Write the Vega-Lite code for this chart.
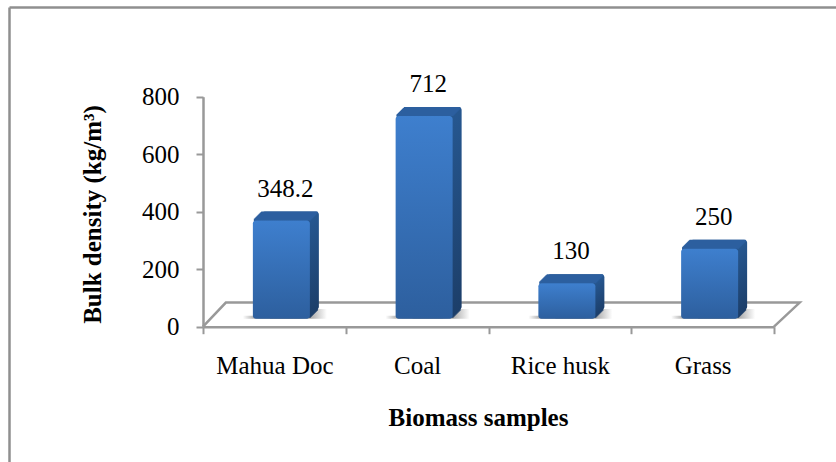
{"$schema":"https://vega.github.io/schema/vega-lite/v6.json","width":827,"height":455,"autosize":"none","padding":{"left":9,"top":7,"right":0,"bottom":0},"background":"white","config":{"view":{"stroke":null},"font":"Liberation Serif"},
"data":{"values":[{"sample":"Mahua Doc","density":348.2},{"sample":"Coal","density":712},{"sample":"Rice husk","density":130},{"sample":"Grass","density":250}]},
"resolve":{"scale":{"x":"independent","y":"independent"},"axis":{"x":"independent","y":"independent"}},
"layer":[
{"data":{"values":[{"fx":0,"fy":0}]},"mark":{"type":"point","opacity":0},"encoding":{
"x":{"field":"fx","type":"quantitative","scale":{"domain":[0,1],"range":[0,827]},"axis":{"orient":"top","title":null,"ticks":false,"labels":false,"grid":false,"domainColor":"#8f8f8f","domainWidth":2.5}},
"y":{"field":"fy","type":"quantitative","scale":{"domain":[0,1],"range":[455,0]},"axis":{"orient":"left","title":null,"ticks":false,"labels":false,"grid":false,"domainColor":"#8f8f8f","domainWidth":2.5}}}},
{"data":{"values":[{"fx":0,"fy":0,"o":1},{"fx":4,"fy":84,"o":2},{"fx":104.5,"fy":84,"o":3},{"fx":100,"fy":0,"o":4}]},"mark":{"type":"line","color":"#999999","strokeWidth":2.5,"clip":false},"encoding":{
"x":{"field":"fx","type":"quantitative","axis":null,"scale":{"domain":[0,100],"range":[194,765],"zero":false}},
"y":{"field":"fy","type":"quantitative","axis":null,"scale":{"domain":[0,800],"range":[319.7,89.7]}},
"order":{"field":"o"}}},
{"encoding":{
"x":{"field":"sample","type":"nominal","sort":null,"scale":{"range":[194,765],"paddingInner":0,"paddingOuter":0},"axis":{"orient":"bottom","title":"Biomass samples","titleFontSize":25,"titleFontWeight":"bold","titleColor":"#000000","titleX":469,"titleY":99,"titleAlign":"center","titleBaseline":"alphabetic","offset":-135.3,"labelAngle":0,"labelFontSize":25,"labelColor":"#000000","labelPadding":20,"tickBand":"extent","tickSize":7,"tickWidth":2,"tickColor":"#999999","domainColor":"#999999","domainWidth":2.5,"grid":false}},
"y":{"field":"density","type":"quantitative","scale":{"domain":[0,800],"range":[319.7,89.7]},"axis":{"orient":"left","title":"Bulk density (kg/m³)","titleFontSize":25,"titleFontWeight":"bold","titleColor":"#000000","titleX":-103,"titleY":207,"titleAlign":"center","titleBaseline":"alphabetic","offset":-194,"values":[0,200,400,600,800],"labelFontSize":25,"labelColor":"#000000","labelPadding":17,"tickSize":7,"tickWidth":2,"tickColor":"#999999","domainColor":"#999999","domainWidth":2.5,"grid":false}}},
"layer":[
{"mark":{"type":"bar","width":57,"xOffset":24,"yOffset":-8,"y2Offset":-8,"fill":{"gradient":"linear","x1":0.55,"y1":0,"x2":1,"y2":0,"stops":[{"offset":0,"color":"#777777"},{"offset":1,"color":"#ffffff"}]}},"encoding":{"y":{"datum":34},"y2":{"datum":0}}},
{"mark":{"type":"bar","width":57,"xOffset":-3,"yOffset":-8,"y2Offset":-8,"fill":{"gradient":"linear","x1":0,"y1":0,"x2":0.3,"y2":0,"stops":[{"offset":0,"color":"#ffffff"},{"offset":1,"color":"#888888"}]}},"encoding":{"y":{"datum":10},"y2":{"datum":0}}},
{"mark":{"type":"bar","width":57,"xOffset":16,"yOffset":-15,"y2Offset":-17,"cornerRadius":3,"fill":{"gradient":"linear","x1":0,"y1":0,"x2":0,"y2":1,"stops":[{"offset":0,"color":"#265790"},{"offset":1,"color":"#1c3e69"}]}},"encoding":{"y2":{"datum":0}}},
{"mark":{"type":"bar","width":57,"xOffset":15,"yOffset":-14,"y2Offset":-16,"fill":{"gradient":"linear","x1":0,"y1":0,"x2":0,"y2":1,"stops":[{"offset":0,"color":"#265790"},{"offset":1,"color":"#1c3e69"}]}},"encoding":{"y2":{"datum":0}}},
{"mark":{"type":"bar","width":57,"xOffset":14,"yOffset":-13,"y2Offset":-15,"fill":{"gradient":"linear","x1":0,"y1":0,"x2":0,"y2":1,"stops":[{"offset":0,"color":"#265790"},{"offset":1,"color":"#1c3e69"}]}},"encoding":{"y2":{"datum":0}}},
{"mark":{"type":"bar","width":57,"xOffset":13,"yOffset":-12,"y2Offset":-14,"fill":{"gradient":"linear","x1":0,"y1":0,"x2":0,"y2":1,"stops":[{"offset":0,"color":"#265790"},{"offset":1,"color":"#1c3e69"}]}},"encoding":{"y2":{"datum":0}}},
{"mark":{"type":"bar","width":57,"xOffset":12,"yOffset":-11,"y2Offset":-13,"fill":{"gradient":"linear","x1":0,"y1":0,"x2":0,"y2":1,"stops":[{"offset":0,"color":"#265790"},{"offset":1,"color":"#1c3e69"}]}},"encoding":{"y2":{"datum":0}}},
{"mark":{"type":"bar","width":57,"xOffset":11,"yOffset":-10,"y2Offset":-12,"fill":{"gradient":"linear","x1":0,"y1":0,"x2":0,"y2":1,"stops":[{"offset":0,"color":"#265790"},{"offset":1,"color":"#1c3e69"}]}},"encoding":{"y2":{"datum":0}}},
{"mark":{"type":"bar","width":57,"xOffset":10,"yOffset":-9,"y2Offset":-11,"fill":{"gradient":"linear","x1":0,"y1":0,"x2":0,"y2":1,"stops":[{"offset":0,"color":"#265790"},{"offset":1,"color":"#1c3e69"}]}},"encoding":{"y2":{"datum":0}}},
{"mark":{"type":"bar","width":57,"xOffset":9,"yOffset":-8,"y2Offset":-10,"fill":{"gradient":"linear","x1":0,"y1":0,"x2":0,"y2":1,"stops":[{"offset":0,"color":"#265790"},{"offset":1,"color":"#1c3e69"}]}},"encoding":{"y2":{"datum":0}}},
{"mark":{"type":"bar","width":57,"xOffset":8,"yOffset":-7,"y2Offset":-9,"fill":{"gradient":"linear","x1":0,"y1":0,"x2":0,"y2":1,"stops":[{"offset":0,"color":"#265790"},{"offset":1,"color":"#1c3e69"}]}},"encoding":{"y2":{"datum":0}}},
{"mark":{"type":"bar","width":57,"xOffset":15,"yOffset":-15,"y2Offset":-13,"cornerRadius":1,"fill":"#2c5f9f"},"encoding":{"y2":{"field":"density"}}},
{"mark":{"type":"bar","width":57,"xOffset":14,"yOffset":-14,"y2Offset":-12,"fill":"#2c5f9f"},"encoding":{"y2":{"field":"density"}}},
{"mark":{"type":"bar","width":57,"xOffset":13,"yOffset":-13,"y2Offset":-11,"fill":"#2c5f9f"},"encoding":{"y2":{"field":"density"}}},
{"mark":{"type":"bar","width":57,"xOffset":12,"yOffset":-12,"y2Offset":-10,"fill":"#2c5f9f"},"encoding":{"y2":{"field":"density"}}},
{"mark":{"type":"bar","width":57,"xOffset":11,"yOffset":-11,"y2Offset":-9,"fill":"#2c5f9f"},"encoding":{"y2":{"field":"density"}}},
{"mark":{"type":"bar","width":57,"xOffset":10,"yOffset":-10,"y2Offset":-8,"fill":"#2c5f9f"},"encoding":{"y2":{"field":"density"}}},
{"mark":{"type":"bar","width":57,"xOffset":9,"yOffset":-9,"y2Offset":-7,"fill":"#2c5f9f"},"encoding":{"y2":{"field":"density"}}},
{"mark":{"type":"bar","width":57,"xOffset":8,"yOffset":-8,"y2Offset":-6,"fill":"#2c5f9f"},"encoding":{"y2":{"field":"density"}}},
{"mark":{"type":"bar","width":57,"xOffset":7,"yOffset":-6,"y2Offset":-8,"cornerRadius":3,"fill":{"gradient":"linear","x1":0,"y1":0,"x2":0,"y2":1,"stops":[{"offset":0,"color":"#3e7fce"},{"offset":1,"color":"#2d5f9e"}]}},"encoding":{"y2":{"datum":0}}},
{"mark":{"type":"text","fontSize":25,"color":"#000000","xOffset":11,"yOffset":-30,"baseline":"alphabetic","align":"center"},"encoding":{"text":{"field":"density","type":"quantitative"}}}
]}
]}
